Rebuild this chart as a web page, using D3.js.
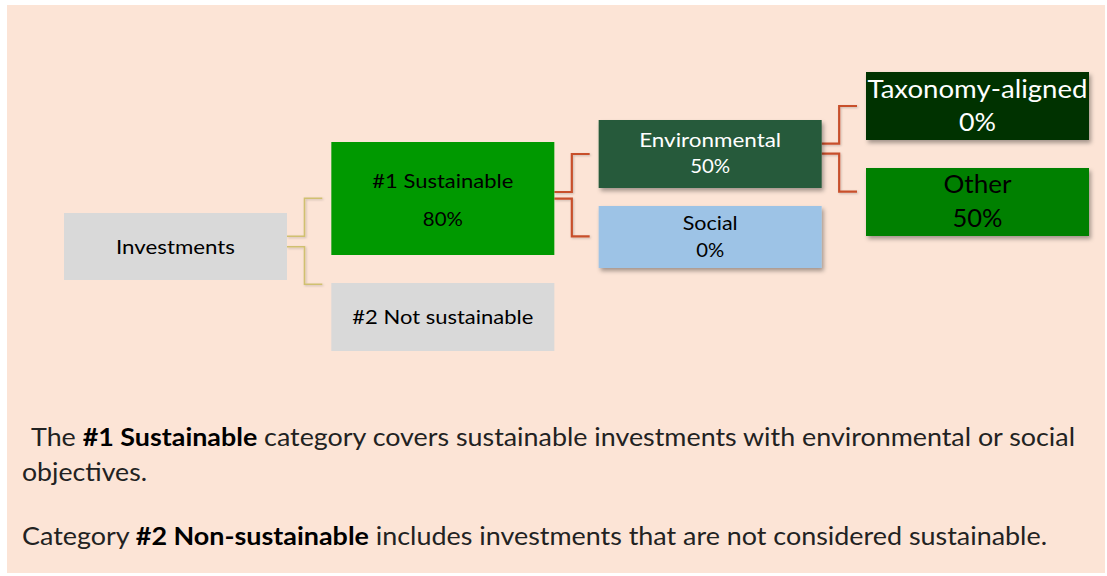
<!DOCTYPE html>
<html>
<head>
<meta charset="utf-8">
<script src="https://cdn.jsdelivr.net/npm/d3@7"></script>
<style>
  body { margin: 0; background: #ffffff; }
  svg { display: block; }
  text { font-family: Lato, "Open Sans", sans-serif; }
</style>
</head>
<body>
<div id="main"></div>
<script>
// data
var nodeIds     = ["inv", "sus", "not", "env", "soc", "tax", "oth"];
var nodeParents = ["",    "inv", "inv", "sus", "sus", "env", "env"];
var nodeNames   = ["Investments", "#1 Sustainable", "#2 Not sustainable",
                   "Environmental", "Social", "Taxonomy-aligned", "Other"];
var nodeShares  = [null, 80, null, 50, 0, 0, 50];

var noteLines = [
  [{t: "The ", b: false}, {t: "#1 Sustainable", b: true},
   {t: " category covers sustainable investments with environmental or social", b: false}],
  [{t: "objectives.", b: false}],
  [{t: "Category ", b: false}, {t: "#2 Non-sustainable", b: true},
   {t: " includes investments that are not considered sustainable.", b: false}]
];

// layout / styles
var W = 1107, H = 576, boxW = 223;
var fill = {inv: "#d9d9d9", sus: "#009900", not: "#d9d9d9", env: "#265a3a",
            soc: "#9dc3e6", tax: "#003300", oth: "#008000"};
var ink  = {env: "#ffffff", tax: "#ffffff"};
var shadowed = {env: 1, soc: 1, tax: 1, oth: 1};
var boxY = {inv: [213, 67], sus: [142, 113], not: [283, 68], env: [120, 68],
            soc: [206, 62], tax: [72, 68], oth: [168, 68]};
// baselines and target widths of the label lines
var lab = {
  inv: {size: 20, base: [254],      w: [119]},
  sus: {size: 20, base: [188, 226], w: [141, 40]},
  not: {size: 20, base: [324],      w: [181]},
  env: {size: 20, base: [147, 173], w: [142, 40]},
  soc: {size: 20, base: [230, 257], w: [55, 28]},
  tax: {size: 25, base: [98, 131],  w: [220, 37]},
  oth: {size: 25, base: [193, 227], w: [68, 50]}
};
// connector start / end heights
var linkY = {sus: [236.3, 198.3], not: [246.7, 284.3], env: [192, 154],
             soc: [198.7, 236.3], tax: [143.7, 106], oth: [153.7, 191.7]};
var linkColor = ["#d0c070", "#c8502c", "#c8502c"];
var linkWidth = [1.6, 2.2, 2.2];

var svg = d3.select("#main")
  .append("svg")
    .attr("width", W)
    .attr("height", H);

var defs = svg.append("defs");
var f = defs.append("filter").attr("id", "shadow")
  .attr("x", "-10%").attr("y", "-20%").attr("width", "130%").attr("height", "160%");
f.append("feDropShadow").attr("dx", 2).attr("dy", 3).attr("stdDeviation", 2.2)
  .attr("flood-color", "#000").attr("flood-opacity", 0.35);
var fl = defs.append("filter").attr("id", "lshadow")
  .attr("x", "-20%").attr("y", "-20%").attr("width", "150%").attr("height", "150%");
fl.append("feDropShadow").attr("dx", 1).attr("dy", 1).attr("stdDeviation", 0.8)
  .attr("flood-color", "#000").attr("flood-opacity", 0.2);

// background panel
svg.append("rect")
  .attr("x", 7).attr("y", 5).attr("width", 1098).attr("height", 568)
  .attr("fill", "#fce4d6");

// hierarchy
var table = nodeIds.map(function(id, i) {
  return {id: id, parent: nodeParents[i], name: nodeNames[i], share: nodeShares[i]};
});
var root = d3.stratify()
  .id(function(d) { return d.id; })
  .parentId(function(d) { return d.parent || null; })(table);

var x = d3.scaleLinear().domain([0, 3]).range([64, 866]);

// connectors
svg.append("g").selectAll("path")
  .data(root.links())
  .enter()
  .append("path")
    .attr("fill", "none")
    .attr("stroke", function(d) { return linkColor[d.source.depth]; })
    .attr("stroke-width", function(d) { return linkWidth[d.source.depth]; })
    .attr("filter", "url(#lshadow)")
    .attr("d", function(d) {
      var x0 = x(d.source.depth) + boxW,
          xm = x0 + 17.5,
          x1 = x(d.target.depth) - 9,
          ys = linkY[d.target.id];
      return "M" + x0 + "," + ys[0] + "H" + xm + "V" + ys[1] + "H" + x1;
    });

// boxes
var nodes = svg.append("g").selectAll("g")
  .data(root.descendants())
  .enter()
  .append("g");

nodes.append("rect")
  .attr("x", function(d) { return x(d.depth); })
  .attr("y", function(d) { return boxY[d.id][0]; })
  .attr("width", boxW)
  .attr("height", function(d) { return boxY[d.id][1]; })
  .attr("fill", function(d) { return fill[d.id]; })
  .attr("filter", function(d) { return shadowed[d.id] ? "url(#shadow)" : null; });

nodes.each(function(d) {
  var g = d3.select(this), L = lab[d.id];
  var lines = [d.data.name];
  if (d.data.share !== null) lines.push(d.data.share + "%");
  lines.forEach(function(t, i) {
    g.append("text")
      .attr("x", x(d.depth) + boxW / 2)
      .attr("y", L.base[i])
      .attr("text-anchor", "middle")
      .attr("font-size", L.size)
      .attr("fill", ink[d.id] || "#000")
      .attr("textLength", L.w[i])
      .attr("lengthAdjust", "spacingAndGlyphs")
      .text(t);
  });
});

// notes under the diagram
var noteX = [31, 22, 22], noteBase = [446, 481, 545], noteW = [1044, 125, 1025];
noteLines.forEach(function(parts, i) {
  var t = svg.append("text")
    .attr("x", noteX[i])
    .attr("y", noteBase[i])
    .attr("font-size", 25)
    .attr("fill", "#222")
    .attr("textLength", noteW[i])
    .attr("lengthAdjust", "spacingAndGlyphs")
    .attr("xml:space", "preserve");
  parts.forEach(function(p) {
    t.append("tspan")
      .attr("font-weight", p.b ? "bold" : null)
      .attr("fill", p.b ? "#000" : null)
      .text(p.t);
  });
});
</script>
</body>
</html>
